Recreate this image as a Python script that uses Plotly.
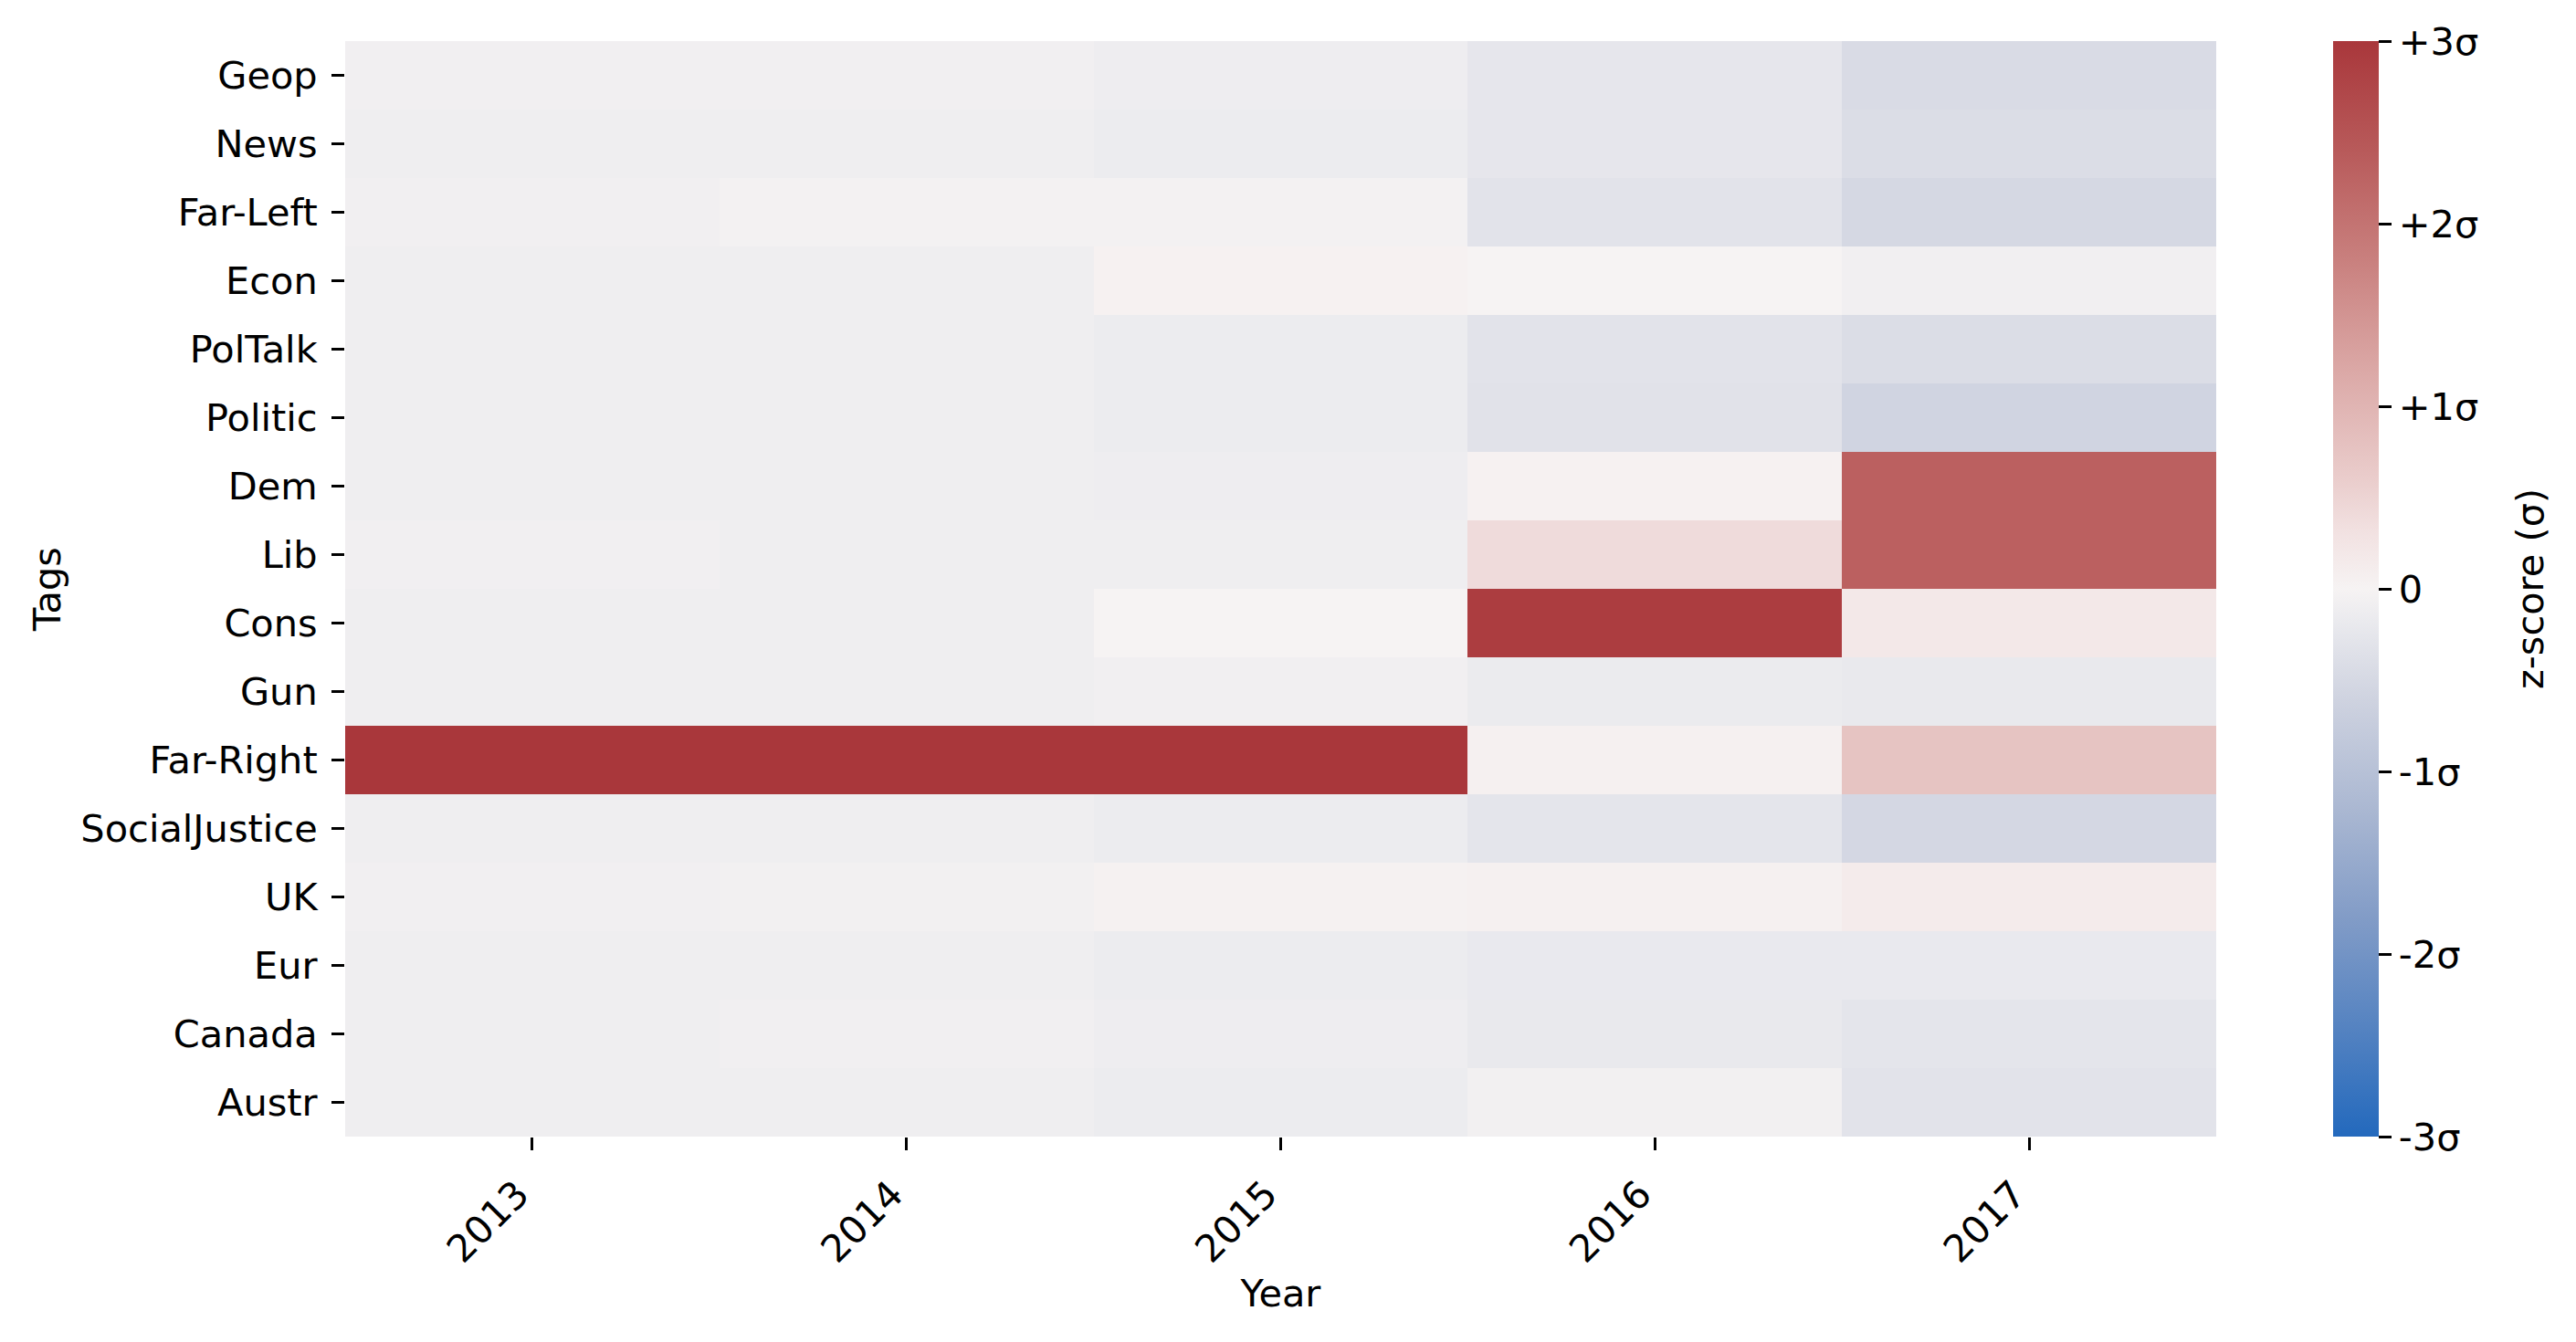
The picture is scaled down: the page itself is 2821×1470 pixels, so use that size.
import plotly.graph_objects as go

# Jahre und Tags
years = ["2013", "2014", "2015", "2016", "2017"]
tags = ["Geop", "News", "Far-Left", "Econ", "PolTalk", "Politic", "Dem", "Lib",
        "Cons", "Gun", "Far-Right", "SocialJustice", "UK", "Eur", "Canada", "Austr"]

# z-scores pro Tag (Spalten = Jahre)
geop = [-0.08, -0.08, -0.12, -0.25, -0.45]
news = [-0.10, -0.10, -0.15, -0.25, -0.42]
far_left = [-0.08, -0.05, -0.05, -0.30, -0.50]
econ = [-0.10, -0.10, 0.03, 0.00, -0.08]
poltalk = [-0.10, -0.10, -0.15, -0.30, -0.42]
politic = [-0.10, -0.10, -0.15, -0.32, -0.58]
dem = [-0.10, -0.10, -0.12, 0.03, 2.30]
lib = [-0.08, -0.10, -0.10, 0.40, 2.30]
cons = [-0.10, -0.10, 0.00, 2.90, 0.20]
gun = [-0.10, -0.10, -0.08, -0.17, -0.20]
far_right = [3.00, 3.00, 3.00, 0.05, 0.75]
social_justice = [-0.10, -0.10, -0.15, -0.28, -0.52]
uk = [-0.08, -0.06, 0.04, 0.05, 0.15]
eur = [-0.10, -0.10, -0.15, -0.19, -0.19]
canada = [-0.10, -0.08, -0.12, -0.20, -0.27]
austr = [-0.10, -0.10, -0.15, -0.06, -0.30]

z = [geop, news, far_left, econ, poltalk, politic, dem, lib, cons, gun,
     far_right, social_justice, uk, eur, canada, austr]

# vlag-aehnliche Farbskala
vlag = [
    [0.00, "rgb(35,105,189)"],
    [0.10, "rgb(85,131,193)"],
    [0.20, "rgb(130,156,199)"],
    [0.30, "rgb(171,184,210)"],
    [0.40, "rgb(207,211,224)"],
    [0.47, "rgb(234,234,238)"],
    [0.50, "rgb(246,243,243)"],
    [0.55, "rgb(242,226,226)"],
    [0.60, "rgb(234,205,204)"],
    [0.70, "rgb(219,168,166)"],
    [0.80, "rgb(201,128,126)"],
    [0.90, "rgb(184,90,90)"],
    [1.00, "rgb(169,55,59)"],
]

font = "DejaVu Sans"
fs = 41.5

fig = go.Figure()
fig.add_trace(go.Heatmap(
    z=z, x=years, y=tags,
    colorscale=vlag, zmin=-3, zmax=3,
    colorbar=dict(
        x=1.0625, xanchor="left", y=0.5, yanchor="middle",
        len=1, lenmode="fraction", thickness=50,
        xpad=0, ypad=0, outlinewidth=0,
        tickvals=[-3, -2, -1, 0, 1, 2, 3],
        ticktext=["-3σ", "-2σ", "-1σ", "0", "+1σ", "+2σ", "+3σ"],
        ticks="outside", ticklen=14, tickwidth=3, tickcolor="black",
        tickfont=dict(family=font, size=fs, color="black"),
    ),
))

# Titel der Farbskala
fig.add_annotation(
    text="z-score (σ)", textangle=-90,
    xref="paper", yref="paper", x=1.1674, y=0.5,
    xanchor="center", yanchor="middle", showarrow=False,
    font=dict(family=font, size=fs, color="black"),
)

fig.update_layout(
    width=2805, height=1454,
    margin=dict(l=370, r=386, t=37, b=217),
    plot_bgcolor="white", paper_bgcolor="white",
    font=dict(family=font, size=fs, color="black"),
    xaxis=dict(
        title=dict(text="Year", standoff=10, font=dict(size=fs)),
        tickangle=-45, ticks="outside", ticklen=14, tickwidth=3,
        tickcolor="black", showgrid=False, zeroline=False,
        tickfont=dict(size=fs), ticklabelstandoff=7, ticklabelshift=-16,
    ),
    yaxis=dict(
        title=dict(text="Tags", standoff=8, font=dict(size=fs)),
        autorange="reversed", ticks="outside", ticklen=14, tickwidth=3,
        tickcolor="black", showgrid=False, zeroline=False,
        tickfont=dict(size=fs), ticklabelstandoff=7,
    ),
)

fig.write_html("out.html")
